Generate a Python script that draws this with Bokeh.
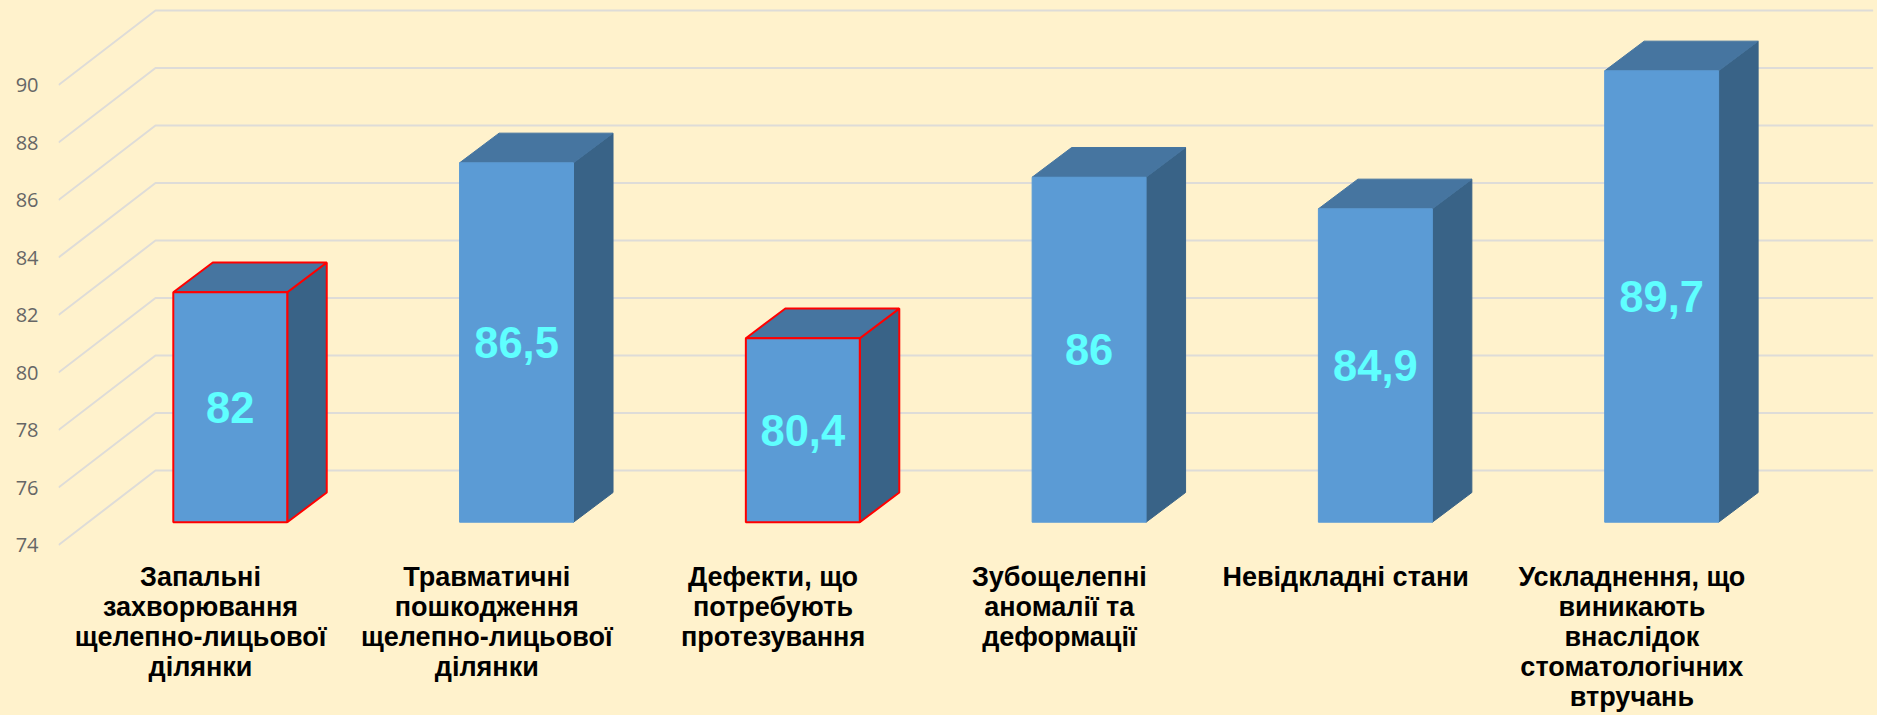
from bokeh.embed import file_html
from bokeh.resources import INLINE
from bokeh.plotting import figure
from bokeh.models import FixedTicker, GlobalInlineStyleSheet
from bokeh.core.properties import value

categories = [
    "Запальні\nзахворювання\nщелепно-лицьової\nділянки",
    "Травматичні\nпошкодження\nщелепно-лицьової\nділянки",
    "Дефекти, що\nпотребують\nпротезування",
    "Зубощелепні\nаномалії та\nдеформації",
    "Невідкладні стани",
    "Ускладнення, що\nвиникають\nвнаслідок\nстоматологічних\nвтручань",
]
values = [82, 86.5, 80.4, 86, 84.9, 89.7]
outlined = [True, False, True, False, False, False]
y_ticks = [74, 76, 78, 80, 82, 84, 86, 88, 90]

BG = "#FFF2CC"
FRONT, TOP, SIDE = "#5B9BD5", "#4675A0", "#396387"
# 3D projection, in axis units
WALL_DX, WALL_DY = 0.3388, 2.59      # full depth of the chart floor
BAR_SX, BAR_SY = 0.1, 0.793          # bar's front plane, from the chart's front
BAR_DX, BAR_DY = 0.138, 1.033        # depth of a bar
BAR_W = 0.398
BASE = y_ticks[0]
LABEL_Y = 73.42                      # top of the category labels
LABEL_DX = -0.004

p = figure(width=1877, height=715, output_backend="svg", toolbar_location=None,
           x_range=(-0.5, 5.854), y_range=(68.07, 92.94),
           min_border_left=58, min_border_right=0, min_border_top=0, min_border_bottom=0,
           background_fill_color=BG, border_fill_color=BG, outline_line_color=None)
p.stylesheets = [GlobalInlineStyleSheet(css=f"html,body{{margin:0;padding:0;background:{BG};overflow:hidden}}")]
p.grid.visible = False
p.xaxis.visible = False

# y axis
p.yaxis.ticker = FixedTicker(ticks=y_ticks)
p.yaxis.axis_line_color = None
p.yaxis.major_tick_line_color = None
p.yaxis.minor_tick_line_color = None
p.yaxis.major_tick_out = 0
p.yaxis.major_label_standoff = 20
p.yaxis.major_label_text_font = "Open Sans"
p.yaxis.major_label_text_font_size = "20px"
p.yaxis.major_label_text_color = "#666666"

# gridlines on the walls
x0, x1 = -0.5, len(categories) - 0.5
p.multi_line(
    xs=[[x0, x0 + WALL_DX, x1 + WALL_DX] for _ in y_ticks],
    ys=[[t, t + WALL_DY, t + WALL_DY] for t in y_ticks],
    line_color="#DEDCD8", line_width=2,
)

# bars
for i, v in enumerate(values):
    l = i - BAR_W / 2 + BAR_SX
    r = i + BAR_W / 2 + BAR_SX
    b = BASE + BAR_SY
    t = v + BAR_SY
    edge = "#FF0000" if outlined[i] else None
    lw = 2
    p.patch([r, r + BAR_DX, r + BAR_DX, r], [b, b + BAR_DY, t + BAR_DY, t],
            fill_color=SIDE, line_color=edge or SIDE, line_width=lw if edge else 1)
    p.patch([l, r, r + BAR_DX, l + BAR_DX], [t, t, t + BAR_DY, t + BAR_DY],
            fill_color=TOP, line_color=edge or TOP, line_width=lw if edge else 1)
    p.patch([l, r, r, l], [b, b, t, t],
            fill_color=FRONT, line_color=edge or FRONT, line_width=lw if edge else 1)

# data labels
p.text(
    x=[i + BAR_SX for i in range(len(values))],
    y=[(v + BASE) / 2 + BAR_SY for v in values],
    text=[f"{v:g}".replace(".", ",") for v in values],
    text_align="center", text_baseline="middle",
    text_font=value("Liberation Sans"), text_font_style="bold",
    text_font_size="43.5px", text_color="#5FFFFF",
)

# category labels
p.text(
    x=[i + LABEL_DX for i in range(len(categories))],
    y=[LABEL_Y] * len(categories),
    text=categories,
    text_align="center", text_baseline="top", text_line_height=1.0,
    text_font=value("Liberation Sans"), text_font_style="bold",
    text_font_size="27px", text_color="#000000",
)

open("out.html", "w").write(file_html(p, INLINE))
